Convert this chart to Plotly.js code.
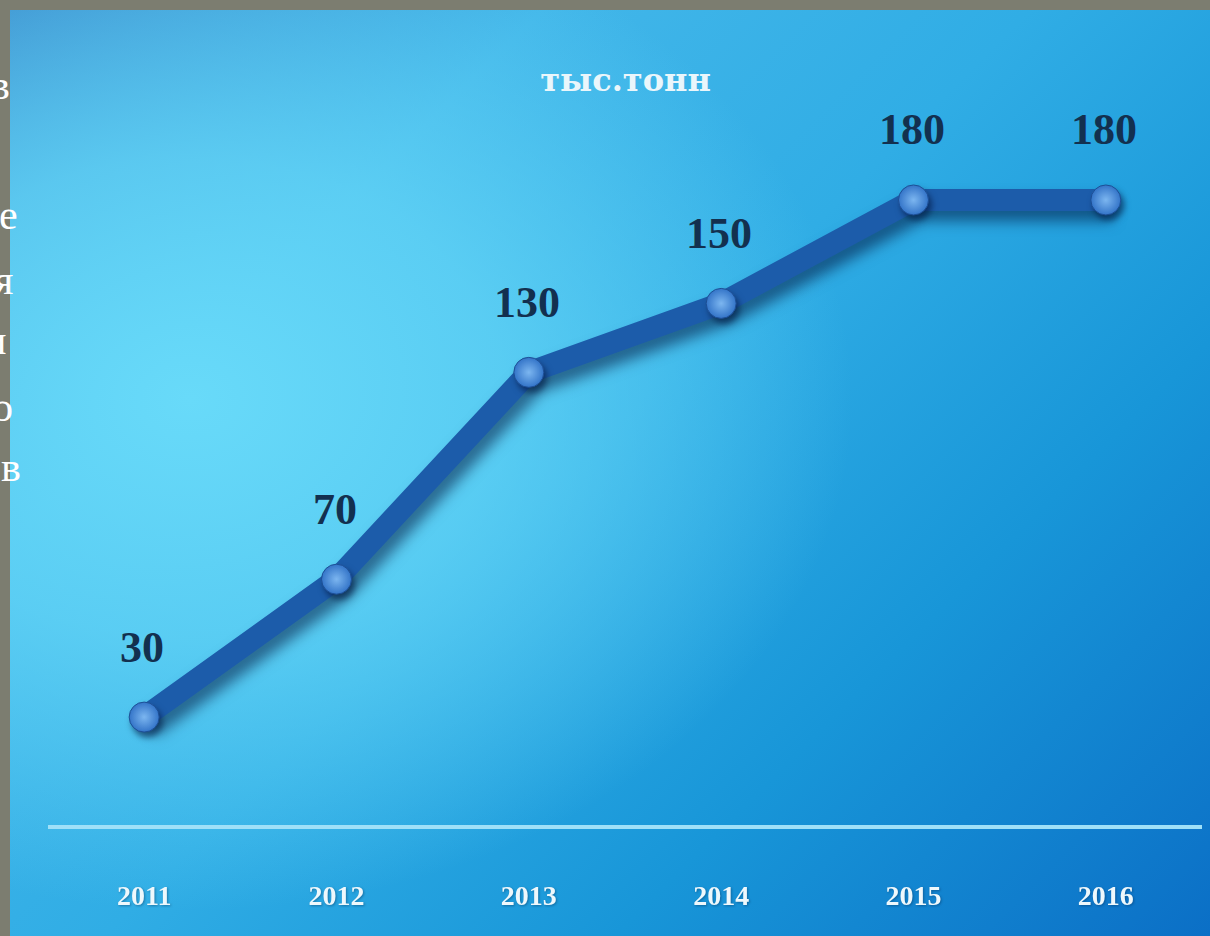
<!DOCTYPE html>
<html>
<head>
<meta charset="utf-8">
<script src="https://cdn.plot.ly/plotly-3.0.1.min.js"></script>
<style>
  html, body { margin: 0; padding: 0; width: 1210px; height: 936px; overflow: hidden; background: #7c7d70; }
  #bg {
    position: absolute; left: 10px; top: 10px; width: 1200px; height: 926px;
    background:
      radial-gradient(ellipse 65% 65% at 15% 42%, rgba(104,218,249,1) 0%, rgba(100,214,247,0.75) 40%, rgba(100,214,247,0) 85%),
      linear-gradient(135deg, #3a8acb 0%, #42b6e9 25%, #30ade5 48%, #1896d8 72%, #0b6fc6 100%);
  }
  #side { position: absolute; left: 0; top: 0; width: 30px; height: 936px; overflow: hidden; }
  .ch { position: absolute; font-family: "Liberation Serif", "DejaVu Serif", serif; font-size: 42px; color: #ffffff; line-height: 1; }
  #chart { position: absolute; left: 0; top: 0; width: 1210px; height: 936px; }
  #chart .scatterlayer .trace .lines path { filter: drop-shadow(6px 10px 7px rgba(0,20,60,0.55)); }
  #chart .scatterlayer .trace .points path { filter: drop-shadow(3px 5px 3px rgba(0,20,60,0.6)); }
  #chart .xtick text { filter: drop-shadow(1px 1px 1px rgba(0,40,80,0.4)); }
</style>
</head>
<body>
<div id="bg"></div>
<div id="side">
  <div class="ch" style="left:-10px; top:64px;">в</div>
  <div class="ch" style="left:-1px; top:194px;">е</div>
  <div class="ch" style="left:-6px; top:259px;">я</div>
  <div class="ch" style="left:-16px; top:319px;">и</div>
  <div class="ch" style="left:-8px; top:386px;">о</div>
  <div class="ch" style="left:1px; top:446px;">в</div>
</div>
<div id="chart"></div>
<script>
const years = ["2011", "2012", "2013", "2014", "2015", "2016"];
const values = [30, 70, 130, 150, 180, 180];
const valueLabels = ["30", "70", "130", "150", "180", "180"];
const unitTitle = "тыс.тонн";

const trace = {
  x: years,
  y: values,
  type: "scatter",
  mode: "lines+markers",
  line: { color: "#1c5caa", width: 22 },
  marker: {
    size: 30,
    color: "#3374c8",
    line: { color: "#1d4f95", width: 1 },
    gradient: { type: "radial", color: "#7cb6f0" }
  },
  hoverinfo: "skip",
  cliponaxis: false
};

// category index positions so that number-like category names are not misread
const annotations = years.map((yr, i) => ({
  x: i,
  y: values[i],
  xref: "x",
  yref: "y",
  text: valueLabels[i],
  showarrow: false,
  yshift: 70,
  xshift: -2,
  font: { family: "Liberation Serif, DejaVu Serif, serif", size: 44, color: "#13304f", weight: "bold" }
}));

const layout = {
  width: 1210,
  height: 936,
  margin: { l: 48, r: 8, t: 100, b: 111 },
  paper_bgcolor: "rgba(0,0,0,0)",
  plot_bgcolor: "rgba(0,0,0,0)",
  showlegend: false,
  title: {
    text: unitTitle,
    x: 0.517,
    xanchor: "center",
    y: 0.915,
    yanchor: "middle",
    font: { family: "DejaVu Serif, serif", size: 32, color: "#eaf6fb", weight: "bold" }
  },
  xaxis: {
    type: "category",
    range: [-0.5, 5.5],
    showgrid: false,
    zeroline: false,
    showline: true,
    linecolor: "#9fe0f8",
    linewidth: 4,
    ticks: "outside",
    ticklen: 42,
    tickcolor: "rgba(0,0,0,0)",
    tickfont: { family: "Liberation Serif, DejaVu Serif, serif", size: 28, color: "#eef8fc", weight: "bold" },
    fixedrange: true
  },
  yaxis: {
    range: [-1.3, 209],
    visible: false,
    showgrid: false,
    zeroline: false,
    fixedrange: true
  },
  annotations: annotations
};

Plotly.newPlot("chart", [trace], layout, { displayModeBar: false, staticPlot: true });
</script>
</body>
</html>
